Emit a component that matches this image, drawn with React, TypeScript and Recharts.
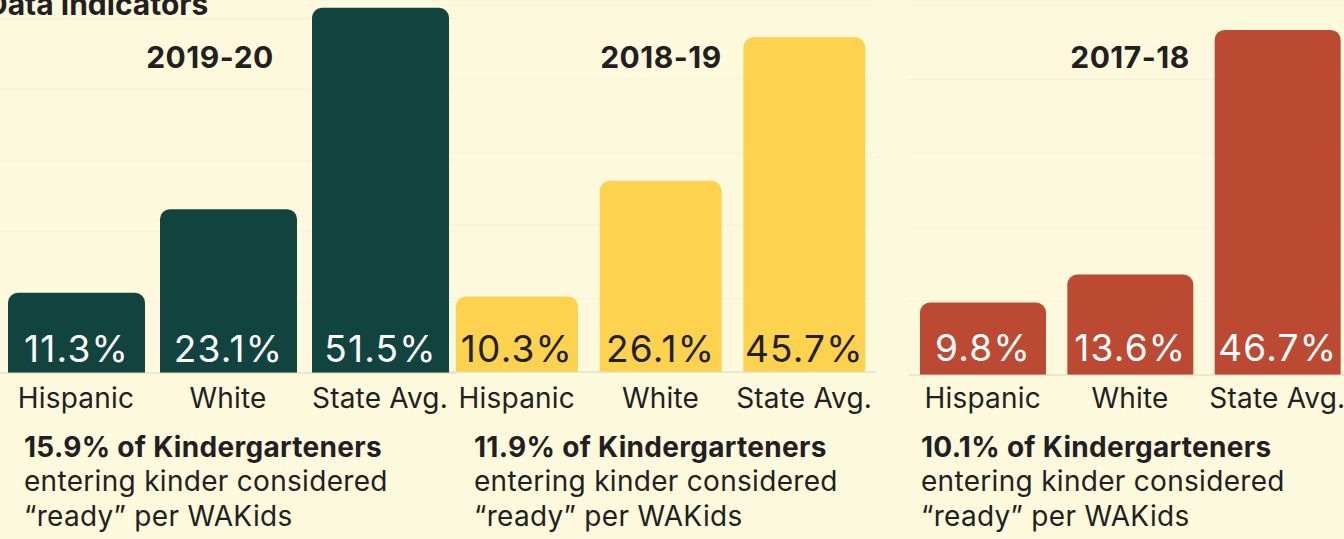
import React from 'react';
import { BarChart, Bar, XAxis, YAxis, CartesianGrid, LabelList } from 'recharts';

const groups = ['Hispanic', 'White', 'State Avg.'];
const years = ['2019-20', '2018-19', '2017-18'];
const values2019 = [11.3, 23.1, 51.5];
const values2018 = [10.3, 26.1, 45.7];
const values2017 = [9.8, 13.6, 46.7];
const readyShare = ['15.9%', '11.9%', '10.1%'];
const gridTicks = [10, 20, 30, 40, 50];

const BG = '#fdf9dd';
const INK = '#231f20';
const FONT = 'Inter, "Noto Sans", sans-serif';

const toRows = (vals: number[]) => groups.map((g, i) => ({ group: g, value: vals[i] }));

// placement of each panel on the page
const panels = [
  { year: years[0], rows: toRows(values2019), color: '#11443e', label: '#ffffff', left: 0, width: 456, bottom: 373, max: 52.6, barSize: 137, tickGap: 15, labelOffset: 11, titleX: 210, noteX: 24, share: readyShare[0] },
  { year: years[1], rows: toRows(values2018), color: '#fdd24e', label: INK, left: 445, width: 431, bottom: 372, max: 50.8, barSize: 122, tickGap: 16, labelOffset: 10, titleX: 661, noteX: 474, share: readyShare[1] },
  { year: years[2], rows: toRows(values2017), color: '#bc4a33', label: '#ffffff', left: 909, width: 442, bottom: 375, max: 50.75, barSize: 126, tickGap: 13, labelOffset: 14, titleX: 1130, noteX: 921, share: readyShare[2] },
];

const CHART_H = 420;
const AXIS_H = 30;

const Panel = ({ p }: { p: (typeof panels)[number] }) => (
  <div style={{ position: 'absolute', left: p.left, top: 0 }}>
    <BarChart
      width={p.width}
      height={CHART_H}
      data={p.rows}
      margin={{ top: 0, right: 0, left: 0, bottom: CHART_H - p.bottom - AXIS_H }}
    >
      <CartesianGrid vertical={false} stroke="#f5f1d8" />
      <YAxis hide domain={[0, p.max]} ticks={gridTicks} />
      <XAxis
        dataKey="group"
        height={AXIS_H}
        interval={0}
        tickLine={false}
        tickSize={0}
        tickMargin={p.tickGap}
        axisLine={{ stroke: '#dcd9c5' }}
        tick={{ fontSize: 28, fill: INK, fontFamily: FONT, letterSpacing: 0.2 }}
      />
      <Bar dataKey="value" fill={p.color} barSize={p.barSize} radius={[10, 10, 0, 0]} isAnimationActive={false}>
        <LabelList
          dataKey="value"
          position="insideBottom"
          offset={p.labelOffset}
          formatter={(v: any) => `${v}%`}
          fill={p.label}
          style={{ fontSize: 37, fontFamily: FONT, letterSpacing: 1.2 }}
        />
      </Bar>
    </BarChart>
  </div>
);

export default function App() {
  return (
    <div style={{ position: 'absolute', left: 0, top: 0, width: 1344, height: 539, overflow: 'hidden', background: BG }}>
      {/* later panels first so the earlier bars sit on top of the overlap */}
      {[...panels].reverse().map((p) => (
        <Panel key={p.year} p={p} />
      ))}
      <svg width={1344} height={539} style={{ position: 'absolute', left: 0, top: 0, pointerEvents: 'none' }} fontFamily={FONT} fill={INK}>
        <text x={-14} y={15} fontSize={30} fontWeight={700}>Data Indicators</text>
        {panels.map((p) => (
          <g key={p.year}>
            <text x={p.titleX} y={68} fontSize={30} fontWeight={700} letterSpacing={0.5} textAnchor="middle">{p.year}</text>
            <text x={p.noteX} y={457} fontSize={28} fontWeight={700} letterSpacing={0.3}>{`${p.share} of Kindergarteners`}</text>
            <text x={p.noteX} y={491} fontSize={28} letterSpacing={0.3}>entering kinder considered</text>
            <text x={p.noteX} y={526} fontSize={28} letterSpacing={0.3}>“ready” per WAKids</text>
          </g>
        ))}
      </svg>
    </div>
  );
}
